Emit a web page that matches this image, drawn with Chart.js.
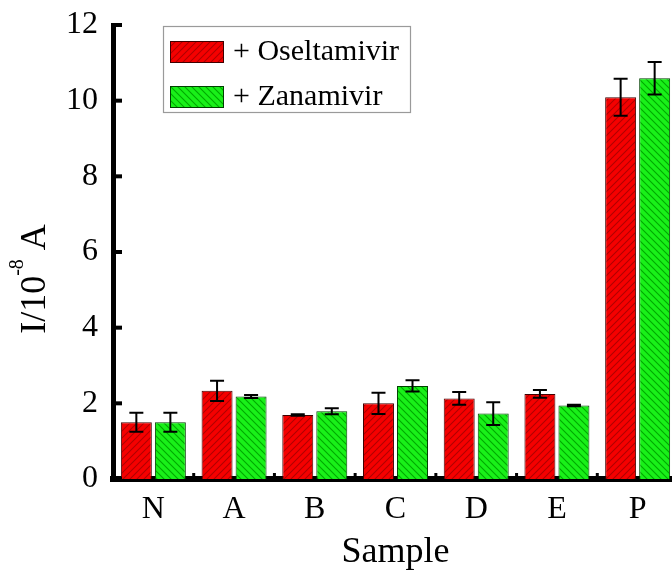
<!DOCTYPE html>
<html>
<head>
<meta charset="utf-8">
<script src="https://cdn.jsdelivr.net/npm/chart.js@4.4.0/dist/chart.umd.min.js"></script>
<style>
  html, body { margin: 0; padding: 0; background: #fff; overflow: hidden; }
  #wrap { width: 678px; height: 571px; }
</style>
</head>
<body>
<div id="wrap"><canvas id="chart"></canvas></div>
<script>
// data
const samples = ['N', 'A', 'B', 'C', 'D', 'E', 'P'];
const oseltamivir = [1.50, 2.33, 1.69, 2.00, 2.13, 2.25, 10.09];
const oseltamivirErr = [0.25, 0.27, 0.02, 0.28, 0.17, 0.10, 0.49];
const zanamivir = [1.50, 2.18, 1.79, 2.46, 1.73, 1.94, 10.59];
const zanamivirErr = [0.25, 0.04, 0.08, 0.15, 0.30, 0.02, 0.43];
const yMin = 0, yMax = 12, yStep = 2;

const FONT = 'Liberation Serif';

// hatched fills: red "///", green "\\\"
function hatch(base, line, up) {
  const s = 7;
  const c = document.createElement('canvas');
  c.width = c.height = s;
  const g = c.getContext('2d');
  g.fillStyle = base;
  g.fillRect(0, 0, s, s);
  g.strokeStyle = line;
  g.lineWidth = 1.1;
  g.beginPath();
  if (up) {
    g.moveTo(0, s); g.lineTo(s, 0);
    g.moveTo(-1, 1); g.lineTo(1, -1);
    g.moveTo(s - 1, s + 1); g.lineTo(s + 1, s - 1);
  } else {
    g.moveTo(0, 0); g.lineTo(s, s);
    g.moveTo(-1, s - 1); g.lineTo(1, s + 1);
    g.moveTo(s - 1, -1); g.lineTo(s + 1, 1);
  }
  g.stroke();
  return g.createPattern(c, 'repeat');
}
const redFill = hatch('#f50000', '#b00000', true);
const greenFill = hatch('#19f019', '#00a800', false);

// error bars on top of each bar
const errorBars = {
  id: 'errorBars',
  afterDatasetsDraw(chart) {
    const { ctx, scales: { y } } = chart;
    ctx.save();
    ctx.strokeStyle = '#000';
    ctx.lineWidth = 2;
    chart.data.datasets.forEach((ds, i) => {
      chart.getDatasetMeta(i).data.forEach((bar, j) => {
        const v = ds.data[j], e = ds.errors[j];
        const top = y.getPixelForValue(v + e);
        const bot = y.getPixelForValue(v - e);
        const x = bar.x, cap = 7;
        ctx.beginPath();
        ctx.moveTo(x, top); ctx.lineTo(x, bot);
        ctx.moveTo(x - cap, top); ctx.lineTo(x + cap, top);
        ctx.moveTo(x - cap, bot); ctx.lineTo(x + cap, bot);
        ctx.stroke();
      });
    });
    ctx.restore();
  }
};

// tick marks pointing into the plot
const innerTicks = {
  id: 'innerTicks',
  afterDraw(chart) {
    const { ctx, chartArea: a, scales: { x, y } } = chart;
    ctx.save();
    ctx.strokeStyle = '#000';
    ctx.lineWidth = 4;
    y.ticks.forEach(t => {
      const py = y.getPixelForValue(t.value);
      ctx.beginPath();
      ctx.moveTo(a.left, py); ctx.lineTo(a.left + 9, py);
      ctx.stroke();
    });
    ctx.lineWidth = 3;
    for (let i = 0; i < samples.length - 1; i++) {
      const px = (x.getPixelForTick(i) + x.getPixelForTick(i + 1)) / 2;
      ctx.beginPath();
      ctx.moveTo(px, a.bottom); ctx.lineTo(px, a.bottom - 6);
      ctx.stroke();
    }
    ctx.restore();
  }
};

// y title with superscript
const yTitle = {
  id: 'yTitle',
  afterDraw(chart) {
    const { ctx } = chart;
    const big = '36px "' + FONT + '"', small = '20px "' + FONT + '"';
    const p1 = 'I/10', p2 = '-8', p3 = ' A';
    ctx.save();
    ctx.fillStyle = '#000';
    ctx.textBaseline = 'alphabetic';
    ctx.font = big;
    const w1 = ctx.measureText(p1).width, w3 = ctx.measureText(p3).width;
    ctx.font = small;
    const w2 = ctx.measureText(p2).width;
    const total = w1 + w2 + w3;
    ctx.translate(45, 279);
    ctx.rotate(-Math.PI / 2);
    let cx = -total / 2;
    ctx.font = big; ctx.fillText(p1, cx, 0); cx += w1;
    ctx.font = small; ctx.fillText(p2, cx, -22); cx += w2;
    ctx.font = big; ctx.fillText(p3, cx, 0);
    ctx.restore();
  }
};

// framed legend inside the plot
const boxLegend = {
  id: 'boxLegend',
  afterDraw(chart) {
    const { ctx } = chart;
    ctx.save();
    ctx.strokeStyle = '#9a9a9a';
    ctx.lineWidth = 1.2;
    ctx.fillStyle = '#fff';
    ctx.fillRect(163, 26, 247, 86);
    ctx.strokeRect(163.5, 26.5, 247, 86);
    chart.data.datasets.forEach((ds, i) => {
      const top = 41 + i * 45;
      ctx.fillStyle = ds.backgroundColor;
      ctx.fillRect(170, top, 54, 22);
      ctx.strokeStyle = ds.borderColor;
      ctx.lineWidth = 1;
      ctx.strokeRect(170.5, top + 0.5, 53, 21);
      ctx.fillStyle = '#000';
      ctx.font = '30px "' + FONT + '"';
      ctx.textBaseline = 'middle';
      ctx.fillText(ds.label, 233, top + 11);
    });
    ctx.restore();
  }
};

new Chart(document.getElementById('chart'), {
  type: 'bar',
  data: {
    labels: samples,
    datasets: [
      { label: '+ Oseltamivir', data: oseltamivir, errors: oseltamivirErr,
        backgroundColor: redFill, borderColor: '#400000', borderWidth: 1 },
      { label: '+ Zanamivir', data: zanamivir, errors: zanamivirErr,
        backgroundColor: greenFill, borderColor: '#004000', borderWidth: 1 }
    ]
  },
  options: {
    responsive: true,
    maintainAspectRatio: false,
    animation: false,
    devicePixelRatio: 1,
    layout: { padding: { top: 25, left: 0, right: 0, bottom: 0 } },
    datasets: { bar: { categoryPercentage: 0.843, barPercentage: 0.91 } },
    plugins: { legend: { display: false }, tooltip: { enabled: false } },
    scales: {
      x: {
        z: 1,
        grid: { display: false, drawTicks: false },
        border: { display: true, color: '#000', width: 6 },
        ticks: { color: '#000', font: { family: FONT, size: 32 }, padding: 11 },
        title: { display: true, text: 'Sample', color: '#000',
                 font: { family: FONT, size: 36, lineHeight: 1 }, padding: 0 },
        afterFit: s => { s.height = 92; }
      },
      y: {
        z: 1,
        min: yMin, max: yMax,
        grid: { display: false, drawTicks: false },
        border: { display: true, color: '#000', width: 5 },
        ticks: { stepSize: yStep, color: '#000', font: { family: FONT, size: 32 }, padding: 15 },
        afterFit: s => { s.width = 113; s.paddingTop = 0; s.paddingBottom = 0; }
      }
    }
  },
  plugins: [errorBars, innerTicks, yTitle, boxLegend]
});
</script>
</body>
</html>
